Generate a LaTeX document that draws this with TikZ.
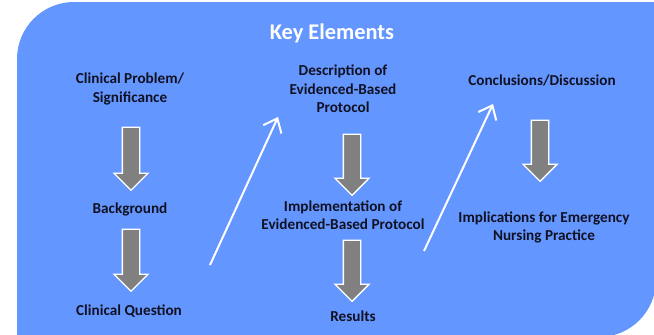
\documentclass[tikz,border=0pt]{standalone}
\usepackage{fontspec}
\setmainfont{Carlito}
\usetikzlibrary{shapes.arrows,arrows.meta}
\definecolor{panelblue}{RGB}{99,150,255}
\definecolor{txtdark}{RGB}{17,17,34}
\definecolor{arrowgray}{RGB}{128,128,128}
\tikzset{
  lbl/.style={font=\bfseries\fontsize{15.2}{18.5}\selectfont, text=txtdark, align=center, inner sep=0pt},
  downarrow/.style={single arrow, shape border rotate=270, fill=arrowgray, draw=white, line width=1.3pt,
    inner sep=8pt, single arrow head extend=8.5pt, minimum height=#1, single arrow tip angle=90},
  upline/.style={draw=white, line width=2pt, -{Straight Barb[length=12pt,width=20pt,line width=2pt]}}
}
\begin{document}
\begin{tikzpicture}[x=1pt,y=-1pt]
\useasboundingbox (0,0) rectangle (654,335);
\begin{scope}
\clip (0,0) rectangle (654,335);
\fill[panelblue] (17,337) -- (17,59) arc[start angle=180, end angle=270, radius=57] -- (656,2) -- (656,280) arc[start angle=0, end angle=90, radius=57] -- cycle;
\end{scope}
\node[font=\bfseries\fontsize{22.4}{26}\selectfont, text=white, inner sep=0pt] (title) at (332,33) {Key Elements};

\node[lbl] (cp) at (130,89) {Clinical Problem/\\Significance};
\node[lbl] (bg) at (130,209) {Background};
\node[lbl] (cq) at (129,311) {Clinical Question};

\node[lbl] (desc) at (343,89) {Description of\\Evidenced-Based\\Protocol};
\node[lbl] (impl) at (343,215) {Implementation of\\Evidenced-Based Protocol};
\node[lbl] (res) at (353,316) {Results};

\node[lbl] (conc) at (542,81) {Conclusions/Discussion};
\node[lbl] (impli) at (544,227.5) {Implications for Emergency\\Nursing Practice};

\node[downarrow=63pt] (a1) at (131,154.5) {};
\node[downarrow=62pt] (a2) at (131,256) {};
\node[downarrow=61pt] (a3) at (352,160.5) {};
\node[downarrow=61pt] (a4) at (352,266.5) {};
\node[downarrow=61pt] (a5) at (540,146.5) {};

\coordinate (w1s) at (210,265);
\coordinate (w1e) at (278,117);
\coordinate (w2s) at (424,251);
\coordinate (w2e) at (493,104);
\draw[upline] (w1s) -- (w1e);
\draw[upline] (w2s) -- (w2e);
\end{tikzpicture}
\end{document}
